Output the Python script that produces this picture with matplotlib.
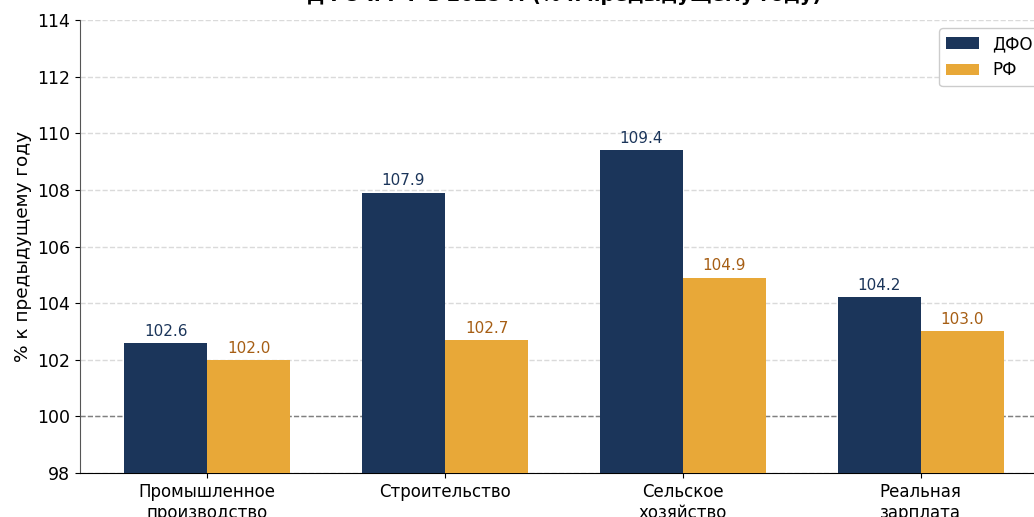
import matplotlib
matplotlib.use("Agg")
import matplotlib.pyplot as plt
import numpy as np

categories = ["Промышленное\nпроизводство", "Строительство", "Сельское\nхозяйство", "Реальная\nзарплата"]
dfo_values = [102.6, 107.9, 109.4, 104.2]
rf_values = [102.0, 102.7, 104.9, 103.0]

dfo_color = "#1b355a"
rf_color = "#e8a838"

fig = plt.figure(figsize=(10.34, 5.17), dpi=100)
ax = fig.add_axes([80 / 1034, 44 / 517, 968 / 1034, 453 / 517])

x = np.arange(len(categories))
w = 0.35
ax.bar(x - w / 2, np.array(dfo_values) - 98, w, bottom=98, color=dfo_color, label="ДФО", zorder=3)
ax.bar(x + w / 2, np.array(rf_values) - 98, w, bottom=98, color=rf_color, label="РФ", zorder=3)

for xi, v in zip(x - w / 2, dfo_values):
    ax.text(xi, v + 0.15, f"{v:.1f}", ha="center", va="bottom", fontsize=11, color="#1b355a")
for xi, v in zip(x + w / 2, rf_values):
    ax.text(xi, v + 0.15, f"{v:.1f}", ha="center", va="bottom", fontsize=11, color="#a65e14")

ax.set_ylim(98, 114)
ax.set_yticks(np.arange(98, 115, 2))
ax.set_xticks(x)
ax.set_xticklabels(categories, fontsize=12)
ax.tick_params(axis="y", labelsize=12.5)
ax.set_ylabel("% к предыдущему году", fontsize=13.3)
ax.set_title("Ключевые показатели экономики\nДФО и РФ в 2025 г. (% к предыдущему году)",
             fontsize=14, fontweight="bold", pad=14)

ax.grid(axis="y", linestyle="--", color="#dadada", linewidth=1.0, zorder=0)
ax.axhline(100, color="#808080", linestyle="--", linewidth=1.0, zorder=2)
ax.spines["top"].set_visible(False)
ax.spines["right"].set_visible(False)
ax.spines["left"].set_color("#555555")

ax.legend(loc="upper right", fontsize=12, framealpha=1, edgecolor="#cccccc")

fig.savefig("out.png", dpi=100)
plt.close(fig)
